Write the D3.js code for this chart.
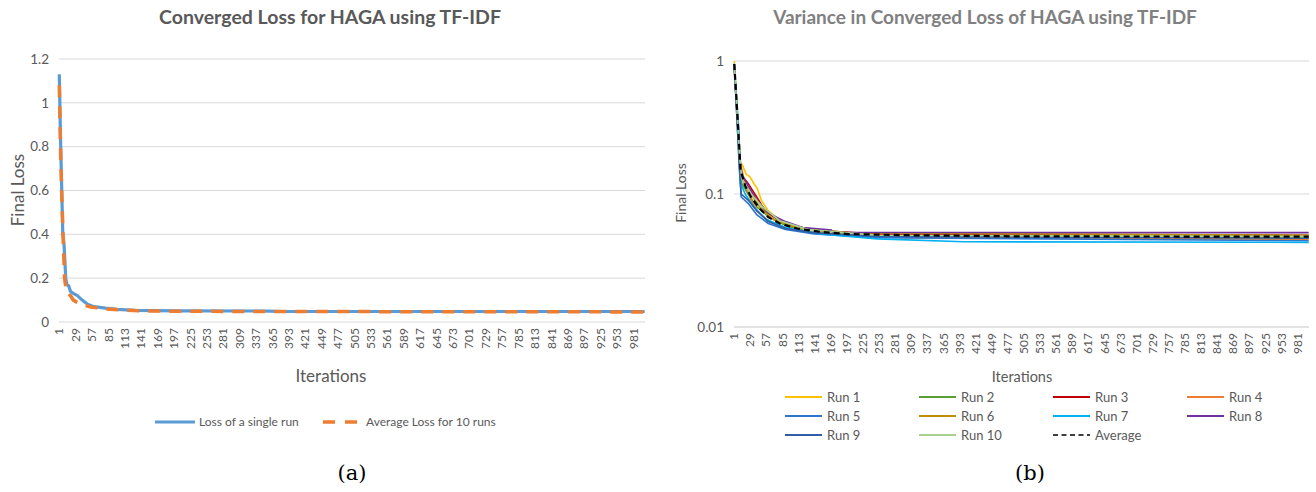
<!DOCTYPE html>
<html>
<head>
<meta charset="utf-8">
<script src="https://cdn.jsdelivr.net/npm/d3@7"></script>
<style>
  body { margin: 0; background: #fff; }
  svg { display: block; }
  text { font-family: Lato, "Open Sans", sans-serif; }
</style>
</head>
<body>
<svg id="chart" width="1316" height="492"></svg>
<script>
// category tick labels shown on both x axes (Excel label interval 28)
const xTickLabels = [1, 29, 57, 85, 113, 141, 169, 197, 225, 253, 281, 309, 337, 365, 393, 421, 449, 477,
  505, 533, 561, 589, 617, 645, 673, 701, 729, 757, 785, 813, 841, 869, 897, 925, 953, 981]
const iterCount = 1000

// panel (a) : [iteration, loss]
const yTicksA = [0, 0.2, 0.4, 0.6, 0.8, 1, 1.2]
const singleRun = [[1, 1.13], [3, 0.85], [5, 0.62], [7, 0.4], [9, 0.36], [12, 0.2], [14, 0.17], [17, 0.165],
  [20, 0.14], [25, 0.13], [32, 0.12], [40, 0.1], [50, 0.08], [60, 0.07], [80, 0.063], [100, 0.058],
  [130, 0.053], [200, 0.051], [360, 0.05], [380, 0.048], [1000, 0.048]]
const averageRuns = [[1, 1.08], [3, 0.8], [5, 0.6], [8, 0.35], [10, 0.2], [13, 0.14], [20, 0.12], [25, 0.1],
  [30, 0.092], [40, 0.08], [55, 0.068], [80, 0.06], [110, 0.054], [160, 0.05], [300, 0.048], [1000, 0.046]]

// panel (b) : log axis, ten runs + average
const yTicksB = [0.01, 0.1, 1]
const runNames = ['Run 1', 'Run 2', 'Run 3', 'Run 4', 'Run 5', 'Run 6', 'Run 7', 'Run 8', 'Run 9', 'Run 10', 'Average']
const runColors = ['#ffc000', '#5a9e35', '#c00000', '#ed7d31', '#2e75d0', '#bf8f00', '#00b0f0', '#7030a0', '#2f5fa7', '#a9d18e', '#000000']
const run1 = [[1, 1.0], [8, 0.3], [12, 0.17], [15, 0.165], [22, 0.14], [28, 0.135], [35, 0.12], [41, 0.11],
  [48, 0.09], [60, 0.075], [80, 0.063], [120, 0.055], [200, 0.05], [400, 0.048], [1000, 0.0475]]
const run2 = [[1, 0.95], [10, 0.2], [14, 0.12], [25, 0.1], [40, 0.08], [60, 0.068], [90, 0.058], [130, 0.052],
  [200, 0.049], [400, 0.047], [1000, 0.0465]]
const run3 = [[1, 0.9], [10, 0.2], [13, 0.14], [25, 0.12], [40, 0.095], [55, 0.074], [75, 0.065], [100, 0.058],
  [150, 0.053], [250, 0.05], [1000, 0.049]]
const run4 = [[1, 0.85], [9, 0.25], [11, 0.13], [13, 0.16], [20, 0.12], [30, 0.09], [40, 0.075], [60, 0.063],
  [90, 0.055], [150, 0.05], [300, 0.047], [1000, 0.0455]]
const run5 = [[1, 0.95], [10, 0.15], [13, 0.095], [25, 0.085], [40, 0.07], [60, 0.06], [90, 0.054], [140, 0.05],
  [250, 0.047], [1000, 0.0445]]
const run6 = [[1, 0.95], [10, 0.2], [14, 0.13], [30, 0.1], [45, 0.08], [70, 0.064], [110, 0.056], [200, 0.051],
  [1000, 0.049]]
const run7 = [[1, 0.9], [9, 0.3], [12, 0.12], [20, 0.1], [35, 0.08], [55, 0.065], [90, 0.056], [150, 0.05],
  [250, 0.046], [400, 0.0437], [1000, 0.0433]]
const run8 = [[1, 0.9], [10, 0.2], [14, 0.14], [25, 0.115], [40, 0.09], [60, 0.072], [90, 0.062], [120, 0.056],
  [170, 0.0535], [172, 0.0515], [1000, 0.0512]]
const run9 = [[1, 0.95], [10, 0.16], [13, 0.1], [25, 0.09], [40, 0.075], [60, 0.062], [90, 0.055], [140, 0.051],
  [250, 0.048], [1000, 0.0465]]
const run10 = [[1, 0.97], [10, 0.2], [14, 0.13], [30, 0.1], [50, 0.08], [80, 0.063], [130, 0.054], [250, 0.049],
  [1000, 0.048]]
const runAverage = [[1, 0.95], [5, 0.5], [9, 0.25], [12, 0.15], [20, 0.115], [30, 0.095], [45, 0.078], [60, 0.067],
  [80, 0.06], [110, 0.055], [150, 0.052], [200, 0.05], [300, 0.049], [500, 0.048], [1000, 0.0478]]
const runSeries = [run1, run2, run3, run4, run5, run6, run7, run8, run9, run10, runAverage]

const svg = d3.select('#chart')
const gridColor = '#d9d9d9'
const labelColor = '#595959'

function drawXAxis(x, yPos, fontSize) {
  const g = svg.append('g')
  g.append('line')
    .attr('x1', x.range()[0]).attr('x2', x.range()[1])
    .attr('y1', yPos).attr('y2', yPos)
    .attr('stroke', gridColor)
  g.selectAll('text').data(xTickLabels).enter()
    .append('text')
    .attr('transform', d => `translate(${x(d) + 4},${yPos + 6}) rotate(-90)`)
    .attr('text-anchor', 'end')
    .attr('font-size', fontSize)
    .attr('fill', labelColor)
    .text(d => d)
}

function drawYGrid(y, ticks, x0, x1, fmt, fontSize) {
  const g = svg.append('g')
  g.selectAll('line').data(ticks).enter()
    .append('line')
    .attr('x1', x0).attr('x2', x1)
    .attr('y1', d => y(d)).attr('y2', d => y(d))
    .attr('stroke', gridColor)
  g.selectAll('text').data(ticks).enter()
    .append('text')
    .attr('x', x0 - 10)
    .attr('y', d => y(d))
    .attr('dy', '0.35em')
    .attr('text-anchor', 'end')
    .attr('font-size', fontSize)
    .attr('fill', labelColor)
    .text(fmt)
}

function addText(x, y, str, opts) {
  const t = svg.append('text')
    .attr('x', x).attr('y', y)
    .attr('text-anchor', opts.anchor || 'middle')
    .attr('font-size', opts.size)
    .attr('fill', opts.color || labelColor)
    .attr('font-weight', opts.weight || 'normal')
    .text(str)
  if (opts.rotate) t.attr('transform', `rotate(-90,${x},${y})`)
  if (opts.family) t.style('font-family', opts.family)
  return t
}

// ---------- panel (a)
const xA = d3.scaleLinear().domain([0.5, iterCount + 0.5]).range([59, 645])
const yA = d3.scaleLinear().domain([0, 1.2]).range([322, 59])

drawYGrid(yA, yTicksA.slice(1), 59, 645, d => d3.format('')(d), 13.5)
svg.append('text').attr('x', 49).attr('y', yA(0)).attr('dy', '0.35em')
  .attr('text-anchor', 'end').attr('font-size', 13.5).attr('fill', labelColor).text('0')
drawXAxis(xA, yA(0), 12)

const lineA = d3.line().x(d => xA(d[0])).y(d => yA(d[1]))
svg.append('path').datum(singleRun)
  .attr('d', lineA).attr('fill', 'none')
  .attr('stroke', '#5b9bd5').attr('stroke-width', 3.2)
svg.append('path').datum(averageRuns)
  .attr('d', lineA).attr('fill', 'none')
  .attr('stroke', '#ed7d31').attr('stroke-width', 3.5)
  .attr('stroke-dasharray', '12,9')

addText(330, 24, 'Converged Loss for HAGA using TF-IDF', { size: 19.5, weight: 'bold' })
addText(24, 190, 'Final Loss', { size: 17, rotate: true })
addText(331, 382, 'Iterations', { size: 17 })

svg.append('line').attr('x1', 155).attr('x2', 195).attr('y1', 422).attr('y2', 422)
  .attr('stroke', '#5b9bd5').attr('stroke-width', 3.2)
addText(199, 426, 'Loss of a single run', { size: 12, anchor: 'start' })
svg.append('line').attr('x1', 323).attr('x2', 358).attr('y1', 422).attr('y2', 422)
  .attr('stroke', '#ed7d31').attr('stroke-width', 3.5).attr('stroke-dasharray', '12,10')
addText(366, 426, 'Average Loss for 10 runs', { size: 12, anchor: 'start' })

addText(352, 480, '(a)', { size: 21, color: '#000', family: '"DejaVu Serif", serif' })

// ---------- panel (b)
const xB = d3.scaleLinear().domain([0.5, iterCount + 0.5]).range([734, 1309])
const yB = d3.scaleLog().domain([0.01, 1]).range([327, 61])

drawYGrid(yB, yTicksB, 734, 1309, d => d3.format('')(d), 13.5)
drawXAxis(xB, yB(0.01), 12)

const lineB = d3.line().x(d => xB(d[0])).y(d => yB(d[1]))
runSeries.forEach((s, i) => {
  const p = svg.append('path').datum(s)
    .attr('d', lineB).attr('fill', 'none')
    .attr('stroke', runColors[i])
    .attr('stroke-width', i === 10 ? 2.2 : 1.6)
  if (i === 10) p.attr('stroke-dasharray', '6,4')
})

addText(985, 24, 'Variance in Converged Loss of HAGA using TF-IDF', { size: 19, weight: 'bold', color: '#808080' })
addText(686, 193, 'Final Loss', { size: 14, rotate: true })
addText(1022, 382, 'Iterations', { size: 14.5 })

const legendCols = [785, 919, 1053, 1187]
const legendRows = [397, 416, 435]
runNames.forEach((name, i) => {
  const lx = legendCols[i % 4]
  const ly = legendRows[Math.floor(i / 4)]
  const l = svg.append('line')
    .attr('x1', lx).attr('x2', lx + 37).attr('y1', ly).attr('y2', ly)
    .attr('stroke', runColors[i]).attr('stroke-width', 2)
  if (i === 10) l.attr('stroke-dasharray', '5,3.5').attr('stroke-width', 1.6)
  addText(lx + 42, ly + 4.5, name, { size: 13, anchor: 'start' })
})

addText(1030, 480, '(b)', { size: 21, color: '#000', family: '"DejaVu Serif", serif' })
</script>
</body>
</html>
